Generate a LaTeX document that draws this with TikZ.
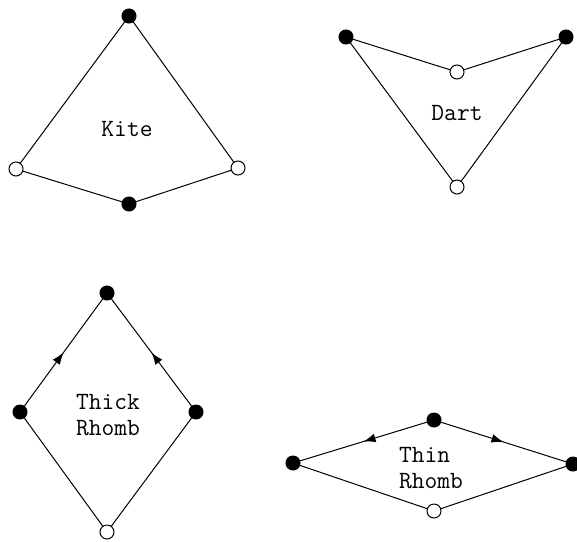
\documentclass[tikz,border=0pt]{standalone}
\usetikzlibrary{arrows.meta, decorations.markings}

\begin{document}
\begin{tikzpicture}[x=0.5pt, y=-0.5pt,
  vertex/.style={circle, draw=black, line width=0.5pt, inner sep=0pt, minimum size=7pt},
  full/.style={vertex, fill=black},
  hollow/.style={vertex, fill=white},
  edge/.style={draw=black, line width=0.5pt},
  midarrow/.style={edge, postaction={decorate}, decoration={markings,
    mark=at position 0.5 with {\arrow{Latex[length=6pt, width=4.4pt]}}}},
  tilename/.style={font=\ttfamily\fontsize{12.4pt}{13pt}\selectfont, inner sep=0pt, align=left},
]

\useasboundingbox (0,0) rectangle (577,541);

% Kite
\node[full]   (kt) at (129,16)  {};
\node[hollow] (kl) at (16,169)  {};
\node[hollow] (kr) at (238,168) {};
\node[full]   (kb) at (129,204) {};
\draw[edge] (kt) -- (kl);
\draw[edge] (kt) -- (kr);
\draw[edge] (kl) -- (kb);
\draw[edge] (kr) -- (kb);
\node[tilename] (kitename) at (127,129) {Kite};

% Dart
\node[full]   (dl) at (346,37)  {};
\node[full]   (dr) at (566,37)  {};
\node[hollow] (dm) at (457,72)  {};
\node[hollow] (db) at (457,187) {};
\draw[edge] (dl) -- (dm);
\draw[edge] (dr) -- (dm);
\draw[edge] (dl) -- (db);
\draw[edge] (dr) -- (db);
\node[tilename] (dartname) at (457,113) {Dart};

% Thick rhomb
\node[full]   (tt) at (107,293) {};
\node[full]   (tl) at (20,412)  {};
\node[full]   (tr) at (196,412) {};
\node[hollow] (tb) at (107,532) {};
\draw[midarrow] (tl) -- (tt);
\draw[midarrow] (tr) -- (tt);
\draw[edge] (tl) -- (tb);
\draw[edge] (tr) -- (tb);
\node[tilename] (thickname) at (108,415) {Thick\\Rhomb};

% Thin rhomb
\node[full]   (nt) at (434,420) {};
\node[full]   (nl) at (293,463) {};
\node[full]   (nr) at (573,464) {};
\node[hollow] (nb) at (434,511) {};
\draw[midarrow] (nt) -- (nl);
\draw[midarrow] (nt) -- (nr);
\draw[edge] (nl) -- (nb);
\draw[edge] (nr) -- (nb);
\node[tilename] (thinname) at (431,468) {Thin\\Rhomb};

\end{tikzpicture}
\end{document}
